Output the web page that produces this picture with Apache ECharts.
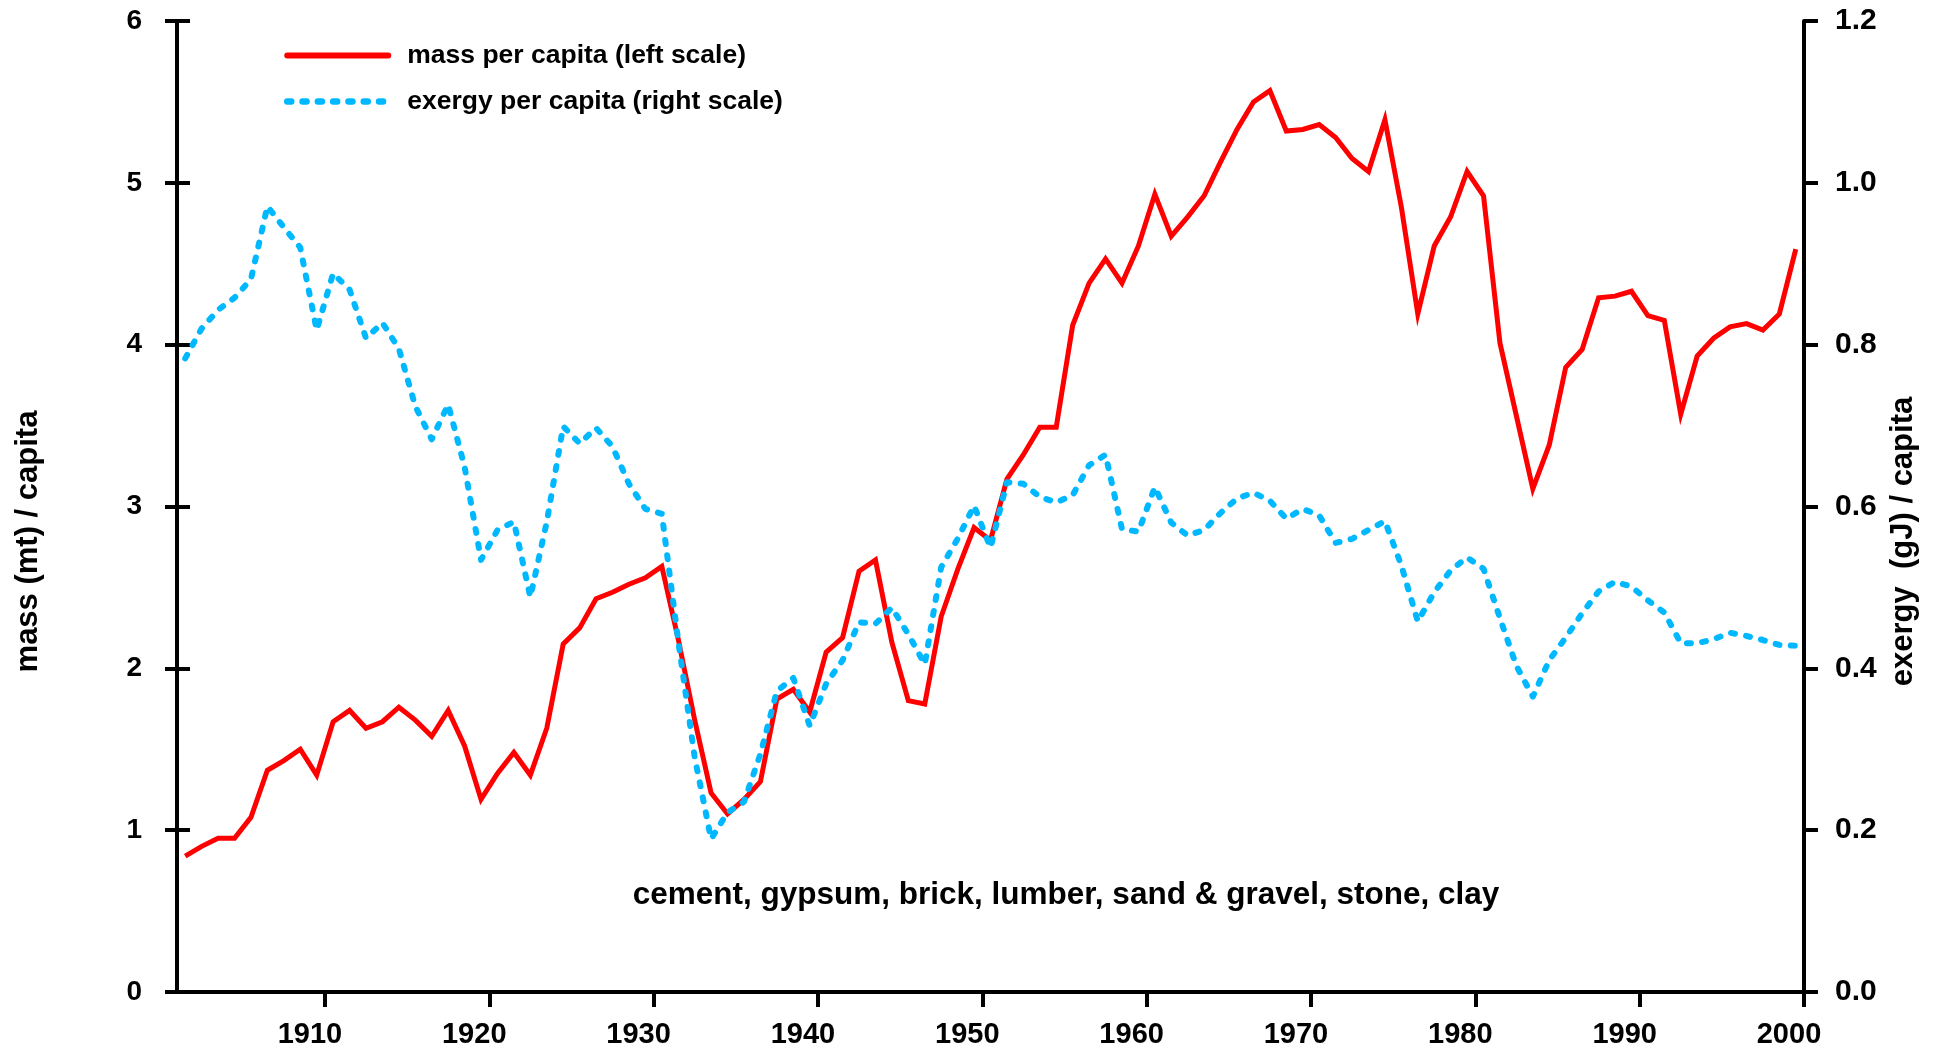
<!DOCTYPE html>
<html>
<head>
<meta charset="utf-8">
<script src="https://cdn.jsdelivr.net/npm/echarts@6/dist/echarts.min.js"></script>
<style>
html,body{margin:0;padding:0;background:#fff;}
#chart{width:1933px;height:1053px;}
</style>
</head>
<body>
<div id="chart"></div>
<script>
// ---- data ----
const firstYear = 1901;
const massPerCapita = [
  0.84,0.90,0.95,0.95,1.08,1.37,1.43,1.50,1.34,1.67,
  1.74,1.63,1.67,1.76,1.68,1.58,1.74,1.52,1.19,1.35,
  1.48,1.34,1.63,2.15,2.25,2.43,2.47,2.52,2.56,2.63,
  2.18,1.68,1.23,1.10,1.19,1.30,1.81,1.87,1.73,2.10,
  2.19,2.60,2.67,2.16,1.80,1.78,2.32,2.61,2.87,2.79,
  3.17,3.32,3.49,3.49,4.12,4.38,4.53,4.38,4.61,4.93,
  4.67,4.79,4.92,5.13,5.33,5.50,5.57,5.32,5.33,5.36,
  5.28,5.15,5.07,5.39,4.85,4.19,4.61,4.79,5.07,4.92,
  4.01,3.56,3.11,3.38,3.86,3.97,4.29,4.30,4.33,4.18,
  4.15,3.57,3.93,4.04,4.11,4.13,4.09,4.19,4.59
];
const exergyPerCapita = [
  0.783,0.820,0.843,0.858,0.881,0.971,0.945,0.920,0.818,0.888,
  0.868,0.808,0.827,0.795,0.724,0.683,0.726,0.649,0.534,0.571,
  0.581,0.488,0.581,0.699,0.678,0.697,0.674,0.628,0.597,0.591,
  0.434,0.290,0.189,0.222,0.235,0.294,0.372,0.388,0.329,0.381,
  0.410,0.457,0.455,0.475,0.442,0.405,0.525,0.560,0.601,0.549,
  0.630,0.628,0.612,0.605,0.614,0.651,0.664,0.572,0.569,0.624,
  0.580,0.564,0.571,0.592,0.610,0.617,0.607,0.585,0.597,0.589,
  0.555,0.560,0.571,0.582,0.527,0.458,0.494,0.521,0.537,0.523,
  0.462,0.403,0.365,0.410,0.438,0.468,0.495,0.507,0.501,0.484,
  0.469,0.431,0.431,0.436,0.444,0.440,0.435,0.429,0.428
];
const xTickYears = [1910,1920,1930,1940,1950,1960,1970,1980,1990,2000];
const leftTicks = [0,1,2,3,4,5,6];
const rightTicks = [0.0,0.2,0.4,0.6,0.8,1.0,1.2];
const seriesNames = ['mass per capita (left scale)', 'exergy per capita (right scale)'];
const noteText = 'cement, gypsum, brick, lumber, sand & gravel, stone, clay';

// year values are plotted at mid-year
const years = massPerCapita.map((_, i) => firstYear + i);
const massData = years.map((y, i) => [y + 0.5, massPerCapita[i]]);
const exergyData = years.map((y, i) => [y + 0.5, exergyPerCapita[i]]);

const FONT = '"Liberation Sans", Arial, Helvetica, sans-serif';
const RED = '#ff0000';
const BLUE = '#00b8ff';
const chart = echarts.init(document.getElementById('chart'), null, {renderer: 'canvas'});
const axisLine = {show: true, lineStyle: {color: '#000', width: 4}};
const tickStyle = {color: '#000', width: 4};
const labelStyle = {color: '#000', fontFamily: FONT, fontWeight: 'bold'};
const nameStyle = {color: '#000', fontFamily: FONT, fontWeight: 'bold', fontSize: 31, padding: [0, 70, 0, 0]};
const blueDash = [4, 11.3];

chart.setOption({
  animation: false,
  backgroundColor: '#fff',
  textStyle: {fontFamily: FONT},
  grid: {left: 177, right: 129, top: 21, bottom: 61, containLabel: false, outerBoundsMode: 'none'},
  legend: {
    data: [
      {name: seriesNames[0], lineStyle: {color: RED, width: 6, type: 'solid', cap: 'round'},
       itemStyle: {color: 'rgba(0,0,0,0)', borderWidth: 0, opacity: 0}},
      {name: seriesNames[1], lineStyle: {color: BLUE, width: 6.5, type: blueDash, cap: 'round'},
       itemStyle: {color: 'rgba(0,0,0,0)', borderWidth: 0, opacity: 0}}
    ],
    orient: 'vertical',
    left: 284,
    top: 42,
    itemWidth: 101,
    itemHeight: 16,
    itemGap: 19,
    padding: 0,
    selectedMode: false,
    textStyle: {color: '#000', fontFamily: FONT, fontWeight: 'bold', fontSize: 26.5, padding: [0, 0, 0, 14]}
  },
  xAxis: {
    type: 'value',
    min: firstYear,
    max: 2000,
    axisLine: axisLine,
    axisTick: {show: true, length: 15, lineStyle: tickStyle, customValues: xTickYears},
    axisLabel: Object.assign({fontSize: 29, margin: 28, padding: [0, 30, 0, 0], customValues: xTickYears,
      formatter: v => String(v)}, labelStyle),
    splitLine: {show: false}
  },
  yAxis: [
    {
      type: 'value', position: 'left', min: leftTicks[0], max: leftTicks[leftTicks.length - 1], interval: 1,
      axisLine: axisLine,
      axisTick: {show: true, length: 12, lineStyle: tickStyle},
      axisLabel: Object.assign({fontSize: 28, margin: 35}, labelStyle),
      splitLine: {show: false},
      name: 'mass (mt) / capita',
      nameLocation: 'middle',
      nameRotate: 90,
      nameGap: 133,
      nameTextStyle: nameStyle
    },
    {
      type: 'value', position: 'right', min: rightTicks[0], max: rightTicks[rightTicks.length - 1], interval: 0.2,
      axisLine: axisLine,
      axisTick: {show: true, length: 14, lineStyle: tickStyle},
      axisLabel: Object.assign({fontSize: 30, margin: 31, formatter: v => v.toFixed(1)}, labelStyle),
      splitLine: {show: false},
      name: 'exergy  (gJ) / capita',
      nameLocation: 'middle',
      nameRotate: 90,
      nameGap: 75,
      nameTextStyle: nameStyle
    },
    {
      type: 'value', position: 'left', min: leftTicks[0], max: leftTicks[leftTicks.length - 1], interval: 1,
      axisLine: {show: false},
      axisTick: {show: true, inside: true, length: 13, lineStyle: tickStyle},
      axisLabel: {show: false},
      splitLine: {show: false}
    }
  ],
  graphic: [{
    type: 'text',
    x: 1066, y: 895,
    style: {text: noteText, fill: '#000', font: 'bold 31.5px ' + FONT, textAlign: 'center', textVerticalAlign: 'middle'}
  }],
  series: [
    {
      name: seriesNames[0], type: 'line', yAxisIndex: 0, data: massData,
      showSymbol: false, symbol: 'none',
      lineStyle: {color: RED, width: 5, join: 'miter'},
      itemStyle: {color: RED}
    },
    {
      name: seriesNames[1], type: 'line', yAxisIndex: 1, data: exergyData,
      showSymbol: false, symbol: 'none',
      lineStyle: {color: BLUE, width: 6, type: blueDash, cap: 'round', join: 'round'},
      itemStyle: {color: BLUE}
    }
  ]
});
</script>
</body>
</html>
